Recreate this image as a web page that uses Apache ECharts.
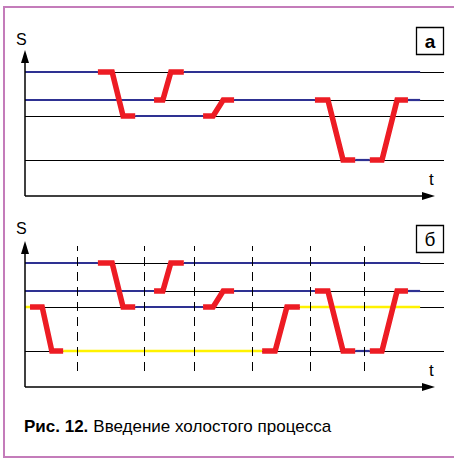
<!DOCTYPE html>
<html>
<head>
<meta charset="utf-8">
<script src="https://cdn.jsdelivr.net/npm/echarts@6/dist/echarts.min.js"></script>
<style>
html,body{margin:0;padding:0;background:#fff;}
#chart{width:454px;height:459px;}
</style>
</head>
<body>
<div id="chart"></div>
<script>
// ---- data (t in time units 0..100, S in level units 0..36.5) ----
const levels = [31, 24, 20, 9];            // S levels (horizontal reference lines)
const tMax = 100;
const sMax = 36.5;
const tAxisEnd = 96.3;                      // end of time axis (arrow)
const sAxisEnd = 34.9;                      // end of S axis (arrow)
// blue idle segments: [tStart, tEnd, level]
const blueSegments = [
  [0, 17.4, 31], [37.9, 94.3, 31],
  [0, 30.8, 24], [49.9, 69.2, 24], [91.4, 94.3, 24],
  [26.3, 42.5, 20],
  [78.8, 82.3, 9]
];
// red transitions: [tStart, tSlopeStart, tSlopeEnd, tEnd, fromLevel, toLevel]
const redSteps = [
  [17.4, 20.8, 23.4, 26.3, 31, 20],
  [30.8, 32.9, 34.8, 37.9, 24, 31],
  [42.5, 44.9, 47.3, 49.9, 20, 24],
  [69.2, 72.3, 75.9, 78.8, 24, 9],
  [82.3, 85.2, 88.8, 91.4, 9, 24]
];
// panel б: idle (dummy) process
const yellowSegments = [
  [0, 1.2, 20], [9.1, 56.6, 9], [65.6, 94.3, 20]
];
const redStepsIdle = [
  [1.2, 4.1, 6.4, 9.1, 20, 9],
  [56.6, 59.7, 62.5, 65.6, 9, 20]
];
const dashTimes = [12.4, 28.4, 40.3, 54.2, 68.0, 80.9];
const dashRange = [4, 35.25];

// ---- styles ----
const RED = '#ed1c24', BLUE = '#2e3192', YELLOW = '#fff200';

function segSeries(seg, idx, color, width, z) {
  return {
    type: 'line', xAxisIndex: idx, yAxisIndex: idx, silent: true, z: z,
    showSymbol: false, symbol: 'none', animation: false,
    lineStyle: { color: color, width: width, cap: 'butt', join: 'miter' },
    data: [[seg[0], seg[2]], [seg[1], seg[2]]]
  };
}
function stepSeries(st, idx) {
  return {
    type: 'line', xAxisIndex: idx, yAxisIndex: idx, silent: true, z: 10,
    showSymbol: false, symbol: 'none', animation: false,
    lineStyle: { color: RED, width: 5.5, cap: 'butt', join: 'miter' },
    data: [[st[0], st[4]], [st[1], st[4]], [st[2], st[5]], [st[3], st[5]]]
  };
}
function frameSeries(idx) {
  return {
    type: 'line', xAxisIndex: idx, yAxisIndex: idx, silent: true, z: 1,
    data: [], animation: false,
    markLine: {
      z: 1, zlevel: 0,
      silent: true, animation: false, symbol: 'none',
      label: { show: false },
      lineStyle: { color: '#000', width: 1, type: 'solid' },
      emphasis: { disabled: true },
      data: levels.map(l => ({ yAxis: l }))
    }
  };
}
function axesSeries(idx) {
  const end = (c) => ({ coord: c, symbol: 'triangle', symbolSize: [8, 13] });
  const start = (c) => ({ coord: c, symbol: 'none' });
  return {
    type: 'line', xAxisIndex: idx, yAxisIndex: idx, silent: true, z: 12,
    data: [], animation: false,
    markLine: {
      z: 12,
      silent: true, animation: false,
      label: { show: false },
      lineStyle: { color: '#000', width: 1.5, type: 'solid' },
      itemStyle: { color: '#000' },
      emphasis: { disabled: true },
      data: [
        [start([0, 0]), end([tAxisEnd, 0])],
        [start([0, 0]), end([0, sAxisEnd])]
      ]
    }
  };
}
function dashSeries(idx) {
  return {
    type: 'line', xAxisIndex: idx, yAxisIndex: idx, silent: true, z: 8,
    data: [], animation: false,
    markLine: {
      z: 8,
      silent: true, animation: false, symbol: 'none',
      label: { show: false },
      lineStyle: { color: '#000', width: 1, type: [9, 6] },
      emphasis: { disabled: true },
      data: dashTimes.map(t => [{ coord: [t, dashRange[0]] }, { coord: [t, dashRange[1]] }])
    }
  };
}

const series = [];
[0, 1].forEach(idx => {
  series.push(frameSeries(idx));
  series.push(axesSeries(idx));
  blueSegments.forEach(s => series.push(segSeries(s, idx, BLUE, 2.2, 3)));
  redSteps.forEach(s => series.push(stepSeries(s, idx)));
});
yellowSegments.forEach(s => series.push(segSeries(s, 1, YELLOW, 2.6, 3)));
redStepsIdle.forEach(s => series.push(stepSeries(s, 1)));
series.push(dashSeries(1));

const FONT = "'Liberation Sans', Arial, sans-serif";
const txt = (text, left, top, size, weight) => ({
  text: text, left: left, top: top, padding: 0,
  textStyle: { fontSize: size, fontWeight: weight || 'normal', color: '#000', fontFamily: FONT }
});

const chart = echarts.init(document.getElementById('chart'), null, { renderer: 'svg' });
chart.setOption({
  animation: false,
  backgroundColor: '#fff',
  grid: [
    { left: 25, top: 50, width: 419, height: 146 },
    { left: 25, top: 241, width: 419, height: 146 }
  ],
  xAxis: [0, 1].map(i => ({ type: 'value', gridIndex: i, min: 0, max: tMax, show: false })),
  yAxis: [0, 1].map(i => ({ type: 'value', gridIndex: i, min: 0, max: sMax, show: false })),
  title: [
    txt('S', 16, 31, 16),
    txt('t', 429, 171, 17),
    txt('S', 16, 220, 16),
    txt('t', 429, 362, 17),
    {
      text: '{b|Рис. 12.} {r|Введение холостого процесса}',
      left: 24, top: 417, padding: 0,
      textStyle: {
        rich: {
          b: { fontSize: 17, fontWeight: 'bold', fontFamily: FONT, color: '#000' },
          r: { fontSize: 17, fontWeight: 'normal', fontFamily: FONT, color: '#000' }
        }
      }
    }
  ],
  graphic: [
    { type: 'rect', silent: true, shape: { x: 4, y: 7, width: 470, height: 450 },
      style: { fill: 'none', stroke: '#c47cba', lineWidth: 2 } },
    { type: 'rect', silent: true, shape: { x: 416.5, y: 27.5, width: 27, height: 27 },
      style: { fill: '#fff', stroke: '#000', lineWidth: 1.3 } },
    { type: 'text', silent: true, x: 430, y: 41,
      style: { text: 'а', fontSize: 19, fontWeight: 'bold', fontFamily: FONT, fill: '#000', align: 'center', verticalAlign: 'middle' } },
    { type: 'rect', silent: true, shape: { x: 416.5, y: 225.5, width: 27, height: 27 },
      style: { fill: '#fff', stroke: '#000', lineWidth: 1.3 } },
    { type: 'text', silent: true, x: 430, y: 239,
      style: { text: 'б', fontSize: 19, fontWeight: 'normal', fontFamily: FONT, fill: '#000', align: 'center', verticalAlign: 'middle' } }
  ],
  series: series
});
</script>
</body>
</html>
